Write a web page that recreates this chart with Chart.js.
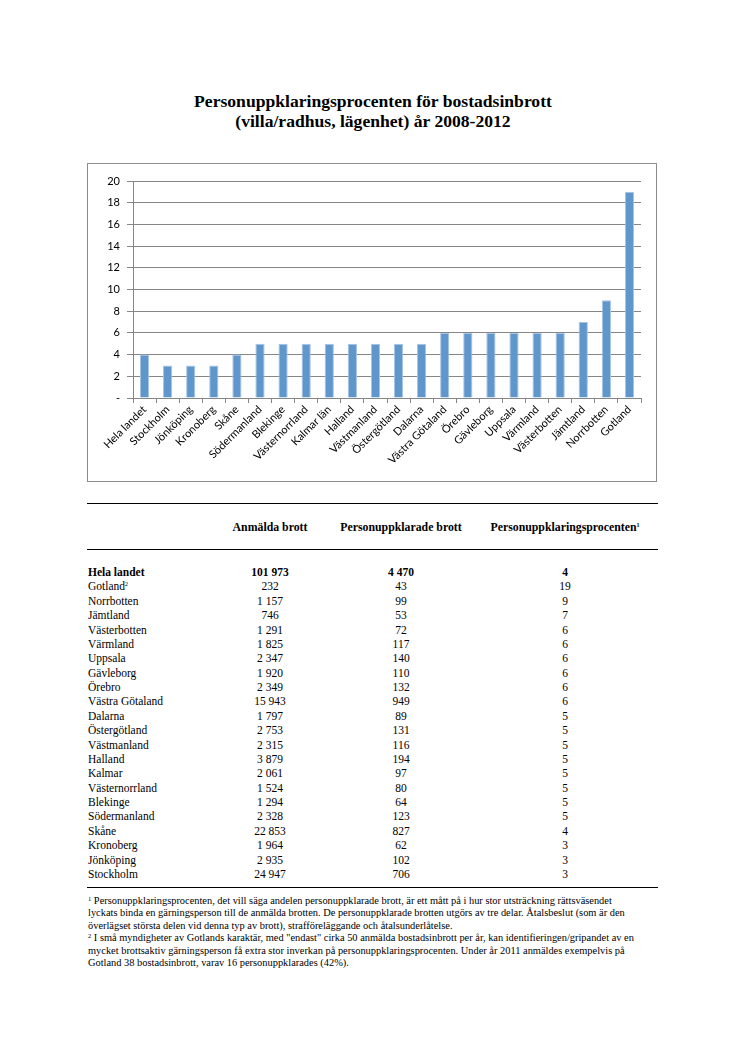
<!DOCTYPE html>
<html lang="sv">
<head>
<meta charset="utf-8">
<script src="https://cdn.jsdelivr.net/npm/chart.js@4.4.1/dist/chart.umd.min.js"></script>
<style>
  body { margin: 0; background: #fff; width: 746px; height: 1056px; position: relative; font-family: "Liberation Serif", serif; color: #000; }
  .title { position: absolute; left: 0; width: 746px; top: 91px; text-align: center; font-weight: bold; font-size: 17.6px; line-height: 20px; }
  .box { position: absolute; left: 87px; top: 163px; width: 568px; height: 317px; border: 1px solid #8c8c8c; }
  .rule { position: absolute; left: 87px; width: 571px; height: 1px; background: #000; }
  .cell { position: absolute; font-size: 11.5px; line-height: 14px; white-space: nowrap; }
  .c { text-align: center; }
  .hdr { font-size: 11.8px; }
  sup { font-size: 6px; vertical-align: 4px; line-height: 0; }
  .notes { position: absolute; left: 88px; top: 895px; font-size: 10.4px; line-height: 12.4px; white-space: nowrap; }
  .notes sup { font-size: 6.5px; vertical-align: 3px; }
</style>
</head>
<body>
<div class="title">Personuppklaringsprocenten för bostadsinbrott<br>(villa/radhus, lägenhet) år 2008-2012</div>
<div class="box"><canvas id="barChart" width="568" height="317"></canvas></div>

<div class="rule" style="top:503px"></div>
<div class="rule" style="top:549px"></div>
<div class="rule" style="top:887px"></div>
<div id="tbl"></div>

<div class="notes">
<sup>1</sup> Personuppklaringsprocenten, det vill säga andelen personuppklarade brott, är ett mått på i hur stor utsträckning rättsväsendet<br>
lyckats binda en gärningsperson till de anmälda brotten. De personuppklarade brotten utgörs av tre delar. Åtalsbeslut (som är den<br>
överlägset största delen vid denna typ av brott), strafföreläggande och åtalsunderlåtelse.<br>
<sup>2</sup> I små myndigheter av Gotlands karaktär, med "endast" cirka 50 anmälda bostadsinbrott per år, kan identifieringen/gripandet av en<br>
mycket brottsaktiv gärningsperson få extra stor inverkan på personuppklaringsprocenten. Under år 2011 anmäldes exempelvis på<br>
Gotland 38 bostadsinbrott, varav 16 personuppklarades (42%).
</div>

<script>
'use strict';

// Diagram
const categories = ['Hela landet', 'Stockholm', 'Jönköping', 'Kronoberg', 'Skåne', 'Södermanland', 'Blekinge',
    'Västernorrland', 'Kalmar län', 'Halland', 'Västmanland', 'Östergötland', 'Dalarna', 'Västra Götaland',
    'Örebro', 'Gävleborg', 'Uppsala', 'Värmland', 'Västerbotten', 'Jämtland', 'Norrbotten', 'Gotland'];
const percentValues = [4, 3, 3, 3, 4, 5, 5, 5, 5, 5, 5, 5, 5, 6, 6, 6, 6, 6, 6, 7, 9, 19];
const yTicks = [0, 2, 4, 6, 8, 10, 12, 14, 16, 18, 20];

// Tabell
const tableRegions = ['Hela landet', 'Gotland', 'Norrbotten', 'Jämtland', 'Västerbotten', 'Värmland', 'Uppsala',
    'Gävleborg', 'Örebro', 'Västra Götaland', 'Dalarna', 'Östergötland', 'Västmanland', 'Halland', 'Kalmar',
    'Västernorrland', 'Blekinge', 'Södermanland', 'Skåne', 'Kronoberg', 'Jönköping', 'Stockholm'];
const reported = ['101 973', '232', '1 157', '746', '1 291', '1 825', '2 347', '1 920', '2 349', '15 943', '1 797',
    '2 753', '2 315', '3 879', '2 061', '1 524', '1 294', '2 328', '22 853', '1 964', '2 935', '24 947'];
const cleared = ['4 470', '43', '99', '53', '72', '117', '140', '110', '132', '949', '89', '131', '116', '194', '97',
    '80', '64', '123', '827', '62', '102', '706'];
const clearedPct = [4, 19, 9, 7, 6, 6, 6, 6, 6, 6, 5, 5, 5, 5, 5, 5, 5, 5, 4, 3, 3, 3];
const headers = ['Anmälda brott', 'Personuppklarade brott', 'Personuppklaringsprocenten<sup>1</sup>'];

const colCenters = [270, 401, 565];
const tbl = document.getElementById('tbl');

function addCell(html, left, top, width, cls, bold) {
    const d = document.createElement('div');
    d.className = 'cell ' + (cls || '');
    d.style.left = left + 'px';
    d.style.top = top + 'px';
    if (width) d.style.width = width + 'px';
    if (bold) d.style.fontWeight = 'bold';
    d.innerHTML = html;
    tbl.appendChild(d);
}

headers.forEach((h, i) => addCell(h, colCenters[i] - 90, 520, 180, 'c hdr', true));

tableRegions.forEach((name, i) => {
    const top = 565 + i * 14.38;
    const bold = i === 0;
    addCell(name + (name === 'Gotland' ? '<sup>2</sup>' : ''), 88, top, null, '', bold);
    addCell(reported[i], colCenters[0] - 60, top, 120, 'c', bold);
    addCell(cleared[i], colCenters[1] - 60, top, 120, 'c', bold);
    addCell(String(clearedPct[i]), colCenters[2] - 60, top, 120, 'c', bold);
});

const ctx = document.getElementById('barChart');
const axisGray = '#868686';

new Chart(ctx, {
    type: 'bar',
    data: {
        labels: categories,
        datasets: [{
            data: percentValues,
            backgroundColor: '#5f97cd',
            borderColor: '#a7c4e4',
            borderWidth: { left: 1, right: 1, top: 1, bottom: 0 },
            barPercentage: 0.8,
            categoryPercentage: 0.5
        }]
    },
    options: {
        responsive: false,
        animation: false,
        layout: { padding: { top: 17, right: 15, left: 0, bottom: 0 } },
        plugins: {
            legend: { display: false },
            tooltip: { enabled: false }
        },
        scales: {
            x: {
                afterFit: (scale) => { scale.height = 83; },
                grid: { offset: true, drawOnChartArea: false, tickLength: 5, color: axisGray },
                border: { color: axisGray },
                ticks: {
                    autoSkip: false,
                    minRotation: 45,
                    maxRotation: 45,
                    padding: 0,
                    color: '#000',
                    font: { family: 'Lato', size: 11 }
                }
            },
            y: {
                min: 0,
                max: 20,
                afterFit: (scale) => { scale.width = 45; },
                afterBuildTicks: (scale) => { scale.ticks = yTicks.map(v => ({ value: v })); },
                grid: { color: axisGray, tickLength: 6 },
                border: { color: axisGray },
                ticks: {
                    padding: 7,
                    color: '#000',
                    font: { family: 'Lato', size: 11 },
                    callback: (v) => v === 0 ? '-' : v
                }
            }
        }
    }
});
</script>
</body>
</html>
